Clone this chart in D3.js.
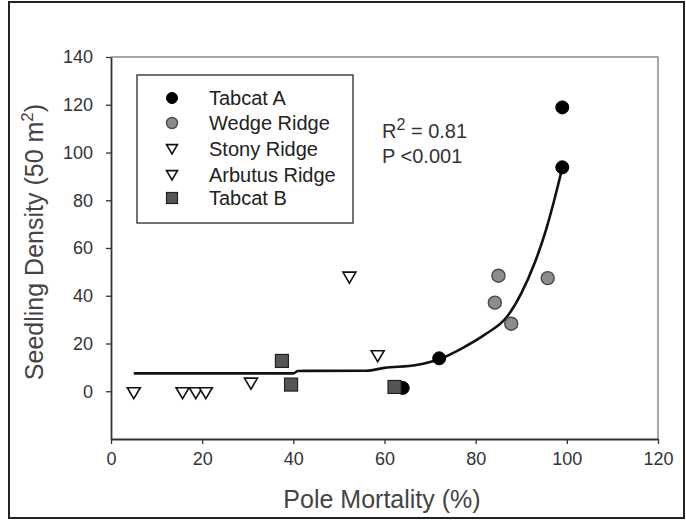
<!DOCTYPE html>
<html>
<head>
<meta charset="utf-8">
<script src="https://cdn.jsdelivr.net/npm/d3@7"></script>
<style>
  body { margin: 0; background: #fff; }
  svg text { font-family: "Liberation Sans", Arial, sans-serif; }
</style>
</head>
<body>
<div id="chart"></div>
<script>
// values
const tabcatAX = [64, 72, 99, 99];
const tabcatAY = [1.4, 13.8, 118.9, 93.8];
const wedgeX = [85, 84.2, 87.8, 95.8];
const wedgeY = [48.4, 37.1, 28.3, 47.4];
const stonyX = [5, 15.7, 30.7, 58.5];
const stonyY = [-0.7, -0.7, 3.3, 14.8];
const arbutusX = [18.6, 20.8, 52.3];
const arbutusY = [-0.7, -0.7, 47.7];
const tabcatBX = [37.5, 39.5, 62.2];
const tabcatBY = [12.7, 2.8, 1.8];

// fitted curve
const fitX = [5, 40, 41, 56, 60, 67, 72, 77, 82, 87, 90, 93, 95.5, 97.5, 99];
const fitY = [7.5, 7.5, 8.5, 8.6, 9.8, 11, 13.4, 18, 23.7, 31.5, 41, 54, 68, 82, 93.5];

const xTicks = [0, 20, 40, 60, 80, 100, 120];
const yTicks = [0, 20, 40, 60, 80, 100, 120, 140];
const seriesNames = ["Tabcat A", "Wedge Ridge", "Stony Ridge", "Arbutus Ridge", "Tabcat B"];
const statLines = ["= 0.81", "P <0.001"];

class ScatterPlot {
  constructor(_config, _series, _fit) {
    this.config = {
      parentElement: _config.parentElement,
      containerWidth: _config.containerWidth || 686,
      containerHeight: _config.containerHeight || 520,
      margin: _config.margin || { top: 57, right: 28, bottom: 81, left: 111 },
    };
    this.series = _series;
    this.fit = _fit;
    this.initVis();
  }

  initVis() {
    let vis = this;

    vis.width = vis.config.containerWidth - vis.config.margin.left - vis.config.margin.right;
    vis.height = vis.config.containerHeight - vis.config.margin.top - vis.config.margin.bottom;

    vis.svg = d3.select(vis.config.parentElement).append("svg")
      .attr("width", vis.config.containerWidth)
      .attr("height", vis.config.containerHeight);

    // outer frame of the figure
    vis.svg.append("rect")
      .attr("x", 9).attr("y", 2)
      .attr("width", 675).attr("height", 516)
      .attr("fill", "none")
      .attr("stroke", "#222")
      .attr("stroke-width", 2);

    vis.chart = vis.svg.append("g")
      .attr("transform", `translate(${vis.config.margin.left},${vis.config.margin.top})`);

    vis.xScale = d3.scaleLinear().domain([0, 120]).range([0, vis.width]);
    vis.yScale = d3.scaleLinear().domain([-20, 140]).range([vis.height, 0]);

    // top / right frame lines
    vis.chart.append("path")
      .attr("d", `M0,0H${vis.width}V${vis.height}`)
      .attr("fill", "none")
      .attr("stroke", "#8a8a8a")
      .attr("stroke-width", 1.5);

    vis.xAxisG = vis.chart.append("g")
      .attr("class", "axis x-axis")
      .attr("transform", `translate(0,${vis.height})`)
      .call(d3.axisBottom(vis.xScale).tickValues(xTicks).tickSize(5).tickPadding(8).tickSizeOuter(0));

    vis.yAxisG = vis.chart.append("g")
      .attr("class", "axis y-axis")
      .call(d3.axisLeft(vis.yScale).tickValues(yTicks).tickSize(5).tickPadding(13).tickSizeOuter(0));

    vis.chart.selectAll(".axis path").attr("stroke", "#333").attr("stroke-width", 1.8);
    vis.chart.selectAll(".axis line").attr("stroke", "#333").attr("stroke-width", 1.3);
    vis.chart.selectAll(".axis text")
      .attr("font-size", 18)
      .attr("fill", "#333");

    // axis titles
    vis.svg.append("text")
      .attr("x", 382).attr("y", 508)
      .attr("text-anchor", "middle")
      .attr("font-size", 25)
      .attr("fill", "#444")
      .text("Pole Mortality (%)");

    const yTitle = vis.svg.append("text")
      .attr("transform", "translate(43,242) rotate(-90)")
      .attr("text-anchor", "middle")
      .attr("font-size", 25)
      .attr("fill", "#444");
    yTitle.append("tspan").text("Seedling Density (50 m");
    yTitle.append("tspan").attr("font-size", 17).attr("dy", -10).text("2");
    yTitle.append("tspan").attr("dy", 10).text(")");

    vis.renderVis();
  }

  symbol(sel, type, s) {
    if (type === "circle" || type === "grey") {
      sel.append("circle").attr("r", s);
    } else if (type === "square") {
      sel.append("rect").attr("x", -s).attr("y", -s).attr("width", 2 * s).attr("height", 2 * s);
    } else {
      sel.append("path").attr("d", `M${-s},${-s * 0.8}L${s},${-s * 0.8}L0,${s * 0.9}Z`);
    }
  }

  renderVis() {
    let vis = this;
    const styles = {
      circle: { fill: "#000", stroke: "#000", w: 1 },
      grey: { fill: "#8c8c8c", stroke: "#4a4a4a", w: 1.4 },
      tri: { fill: "#fff", stroke: "#111", w: 1.6 },
      square: { fill: "#555", stroke: "#222", w: 1.2 },
    };

    // regression curve
    const line = d3.line()
      .x((d) => vis.xScale(d[0]))
      .y((d) => vis.yScale(d[1]))
      .curve(d3.curveMonotoneX);
    vis.chart.append("path")
      .datum(vis.fit)
      .attr("d", line)
      .attr("fill", "none")
      .attr("stroke", "#111")
      .attr("stroke-width", 2.6);

    vis.series.forEach((s) => {
      const st = styles[s.type];
      vis.chart.selectAll(null)
        .data(s.points)
        .join("g")
        .attr("transform", (d) => `translate(${vis.xScale(d.x)},${vis.yScale(d.y)})`)
        .each(function () { vis.symbol(d3.select(this), s.type, s.type === "square" ? 6.5 : s.type === "tri" ? 6.5 : 6.5); })
        .selectAll("*")
        .attr("fill", st.fill)
        .attr("stroke", st.stroke)
        .attr("stroke-width", st.w);
    });

    // legend
    const legend = vis.svg.append("g").attr("class", "legend");
    legend.append("rect")
      .attr("x", 137).attr("y", 75)
      .attr("width", 216).attr("height", 148)
      .attr("fill", "#fff")
      .attr("stroke", "#444")
      .attr("stroke-width", 1.5);
    const rows = [98, 123, 149, 175, 198];
    vis.series.forEach((s, i) => {
      const st = styles[s.type];
      const g = legend.append("g").attr("transform", `translate(172,${rows[i]})`);
      vis.symbol(g, s.type, 5.5);
      g.selectAll("*").attr("fill", st.fill).attr("stroke", st.stroke).attr("stroke-width", st.w);
      legend.append("text")
        .attr("x", 209).attr("y", rows[i] + 7)
        .attr("font-size", 20)
        .attr("fill", "#222")
        .text(s.name);
    });

    // fit statistics
    const r2 = vis.svg.append("text").attr("x", 382).attr("y", 138).attr("font-size", 20).attr("fill", "#333");
    r2.append("tspan").text("R");
    r2.append("tspan").attr("font-size", 16).attr("dy", -8).text("2");
    r2.append("tspan").attr("dy", 8).text(" " + statLines[0]);
    vis.svg.append("text").attr("x", 382).attr("y", 163).attr("font-size", 20).attr("fill", "#333")
      .text(statLines[1]);
  }
}

const toPoints = (xs, ys) => xs.map((x, i) => ({ x: x, y: ys[i] }));
const series = [
  { name: seriesNames[0], type: "circle", points: toPoints(tabcatAX, tabcatAY) },
  { name: seriesNames[1], type: "grey", points: toPoints(wedgeX, wedgeY) },
  { name: seriesNames[2], type: "tri", points: toPoints(stonyX, stonyY) },
  { name: seriesNames[3], type: "tri", points: toPoints(arbutusX, arbutusY) },
  { name: seriesNames[4], type: "square", points: toPoints(tabcatBX, tabcatBY) },
];
const fit = fitX.map((x, i) => [x, fitY[i]]);

new ScatterPlot({ parentElement: "#chart" }, series, fit);
</script>
</body>
</html>
